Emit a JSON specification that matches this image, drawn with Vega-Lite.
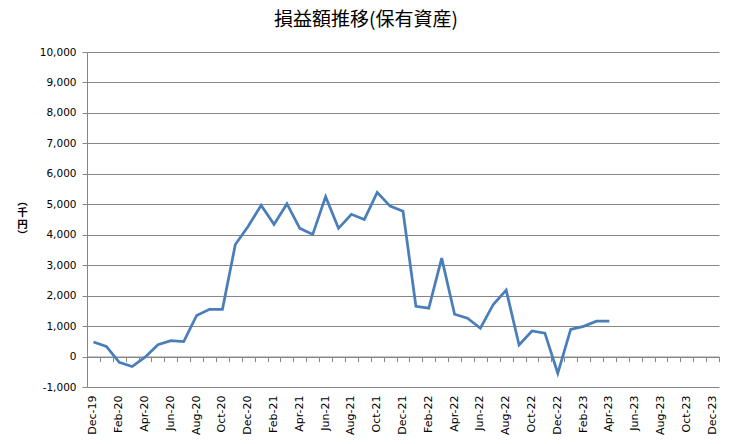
{
  "$schema": "https://vega.github.io/schema/vega-lite/v6.json",
  "width": 632,
  "height": 335,
  "autosize": {"type": "none"},
  "padding": {"left": 87, "top": 52, "right": 14, "bottom": 57},
  "background": "#ffffff",
  "title": {
    "text": "損益額推移(保有資産)",
    "font": "Noto Sans CJK JP",
    "fontSize": 19,
    "fontWeight": "normal",
    "color": "#000000",
    "anchor": "middle",
    "dx": -37,
    "offset": 17
  },
  "data": {
    "values": [
      {"month": "Dec-19", "value": 480},
      {"month": "Jan-20", "value": 330},
      {"month": "Feb-20", "value": -190},
      {"month": "Mar-20", "value": -330},
      {"month": "Apr-20", "value": -20},
      {"month": "May-20", "value": 390},
      {"month": "Jun-20", "value": 520},
      {"month": "Jul-20", "value": 490},
      {"month": "Aug-20", "value": 1350},
      {"month": "Sep-20", "value": 1550},
      {"month": "Oct-20", "value": 1550},
      {"month": "Nov-20", "value": 3680},
      {"month": "Dec-20", "value": 4280},
      {"month": "Jan-21", "value": 4970},
      {"month": "Feb-21", "value": 4340},
      {"month": "Mar-21", "value": 5020},
      {"month": "Apr-21", "value": 4210},
      {"month": "May-21", "value": 4010},
      {"month": "Jun-21", "value": 5250},
      {"month": "Jul-21", "value": 4210},
      {"month": "Aug-21", "value": 4670},
      {"month": "Sep-21", "value": 4500},
      {"month": "Oct-21", "value": 5390},
      {"month": "Nov-21", "value": 4940},
      {"month": "Dec-21", "value": 4770},
      {"month": "Jan-22", "value": 1650},
      {"month": "Feb-22", "value": 1590},
      {"month": "Mar-22", "value": 3230},
      {"month": "Apr-22", "value": 1390},
      {"month": "May-22", "value": 1260},
      {"month": "Jun-22", "value": 930},
      {"month": "Jul-22", "value": 1710},
      {"month": "Aug-22", "value": 2180},
      {"month": "Sep-22", "value": 380},
      {"month": "Oct-22", "value": 840},
      {"month": "Nov-22", "value": 770},
      {"month": "Dec-22", "value": -550},
      {"month": "Jan-23", "value": 890},
      {"month": "Feb-23", "value": 990},
      {"month": "Mar-23", "value": 1160},
      {"month": "Apr-23", "value": 1160}
    ]
  },
  "encoding": {
    "y": {
      "field": "value",
      "type": "quantitative",
      "scale": {"domain": [-1000, 10000], "nice": false, "zero": false},
      "axis": {
        "values": [-1000, 0, 1000, 2000, 3000, 4000, 5000, 6000, 7000, 8000, 9000, 10000],
        "format": ",.0f",
        "labelExpr": "replace(datum.label, '\u2212', '-')",
        "grid": true,
        "gridColor": "#868686",
        "gridWidth": 1,
        "domainColor": "#868686",
        "tickColor": "#868686",
        "tickSize": 5,
        "labelPadding": 6,
        "labelFont": "DejaVu Sans",
        "labelFontSize": 10.5,
        "labelColor": "#000000",
        "title": ["\ufe35", "千", "円", "\ufe36"],
        "titleFont": "Noto Sans CJK JP",
        "titleFontSize": 10.5,
        "titleFontWeight": "bold",
        "titleLineHeight": 11.5,
        "titleColor": "#000000",
        "titleAlign": "center",
        "titleBaseline": "middle",
        "titleX": -65,
        "titleY": 149
      }
    }
  },
  "layer": [
    {
      "mark": {"type": "line", "color": "#4A7EBB", "strokeWidth": 2.75},
      "encoding": {
        "x": {
          "field": "month",
          "type": "ordinal",
          "sort": null,
          "scale": {
            "type": "band",
            "paddingInner": 0,
            "paddingOuter": 0,
            "domain": ["Dec-19","Jan-20","Feb-20","Mar-20","Apr-20","May-20","Jun-20","Jul-20","Aug-20","Sep-20","Oct-20","Nov-20","Dec-20","Jan-21","Feb-21","Mar-21","Apr-21","May-21","Jun-21","Jul-21","Aug-21","Sep-21","Oct-21","Nov-21","Dec-21","Jan-22","Feb-22","Mar-22","Apr-22","May-22","Jun-22","Jul-22","Aug-22","Sep-22","Oct-22","Nov-22","Dec-22","Jan-23","Feb-23","Mar-23","Apr-23","May-23","Jun-23","Jul-23","Aug-23","Sep-23","Oct-23","Nov-23","Dec-23"]
          },
          "axis": {
            "orient": "bottom",
            "title": null,
            "domain": false,
            "ticks": false,
            "grid": false,
            "values": ["Dec-19","Feb-20","Apr-20","Jun-20","Aug-20","Oct-20","Dec-20","Feb-21","Apr-21","Jun-21","Aug-21","Oct-21","Dec-21","Feb-22","Apr-22","Jun-22","Aug-22","Oct-22","Dec-22","Feb-23","Apr-23","Jun-23","Aug-23","Oct-23","Dec-23"],
            "labelAngle": -90,
            "labelAlign": "right",
            "labelBaseline": "middle",
            "labelPadding": 8,
            "labelOverlap": false,
            "labelFont": "DejaVu Sans",
            "labelFontSize": 11,
            "labelColor": "#000000"
          }
        }
      }
    },
    {
      "mark": {"type": "line", "strokeOpacity": 0},
      "encoding": {
        "x": {
          "field": "month",
          "type": "ordinal",
          "sort": null,
          "axis": {
            "orient": "bottom",
            "offset": -30.45,
            "title": null,
            "labels": false,
            "grid": false,
            "ticks": true,
            "tickBand": "extent",
            "tickSize": 5,
            "tickColor": "#868686",
            "domain": true,
            "domainColor": "#868686",
            "domainWidth": 1
          }
        }
      }
    }
  ],
  "resolve": {"axis": {"x": "independent"}},
  "config": {
    "view": {"stroke": null},
    "axisY": {"titleAngle": 0},
    "axisLeft": {"titleAngle": 0}
  }
}
